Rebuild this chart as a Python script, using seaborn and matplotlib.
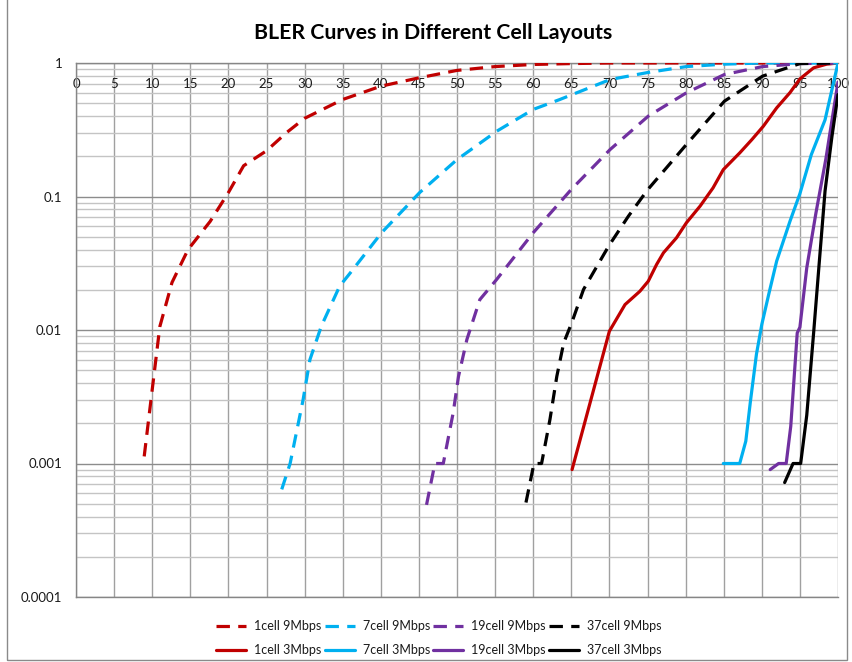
import numpy as np
import pandas as pd
import matplotlib
matplotlib.use("Agg")
import matplotlib.pyplot as plt
from matplotlib.ticker import FixedLocator, NullFormatter
from matplotlib.patches import Rectangle
import seaborn as sns

sns.set_theme(style="white")
plt.rcParams["font.family"] = ["Lato", "DejaVu Sans"]

# ---- data -------------------------------------------------------------
series_names = ["1cell 9Mbps", "1cell 3Mbps", "7cell 9Mbps", "7cell 3Mbps",
                "19cell 9Mbps", "19cell 3Mbps", "37cell 9Mbps", "37cell 3Mbps"]

x_1cell_9 = [8.95, 9.9, 11.0, 12.6, 14.7, 17.6, 20.0, 22.0, 25.0, 27.6, 30.0,
             35.0, 40.0, 45.0, 50.0, 55.0, 60.0, 65.0, 70.0, 80.0, 90.0, 100.0]
y_1cell_9 = [0.00113, 0.0032, 0.0106, 0.0227, 0.040, 0.065, 0.107, 0.17, 0.22,
             0.30, 0.385, 0.533, 0.67, 0.774, 0.88, 0.94, 0.975, 0.99, 1.0,
             1.0, 1.0, 1.0]

x_7cell_9 = [27.0, 28.1, 29.8, 30.7, 32.2, 34.6, 36.0, 40.1, 45.1, 50.0, 55.2,
             60.0, 63.5, 70.1, 75.1, 80.1, 85.0, 90.0, 95.0, 100.0]
y_7cell_9 = [0.00064, 0.001, 0.0030, 0.006, 0.0107, 0.0213, 0.0268, 0.0535,
             0.107, 0.189, 0.308, 0.449, 0.533, 0.752, 0.85, 0.94, 0.98, 1.0,
             1.0, 1.0]

x_19cell_9 = [46.0, 47.1, 48.2, 49.5, 50.2, 51.3, 53.0, 55.2, 60.0, 65.0, 70.1,
              75.1, 80.1, 85.1, 90.1, 95.0, 100.0]
y_19cell_9 = [0.00049, 0.001, 0.001, 0.0024, 0.0045, 0.0085, 0.0169, 0.0239,
              0.0535, 0.113, 0.225, 0.40, 0.598, 0.82, 0.94, 0.99, 1.0]

x_37cell_9 = [59.05, 60.1, 61.1, 62.2, 63.1, 64.0, 65.05, 66.6, 69.9, 72.5,
              75.0, 80.1, 85.1, 90.1, 95.0, 100.0]
y_37cell_9 = [0.00051, 0.001, 0.001, 0.00214, 0.0045, 0.008, 0.0113, 0.0201,
              0.0425, 0.0713, 0.112, 0.245, 0.518, 0.797, 0.99, 1.0]

x_1cell_3 = [65.1, 70.0, 72.05, 74.0, 75.1, 76.2, 77.1, 78.8, 80.1, 81.9, 83.6,
             84.95, 87.1, 88.7, 90.2, 91.95, 93.7, 95.0, 96.8, 98.5, 100.0]
y_1cell_3 = [0.0009, 0.0098, 0.0155, 0.0195, 0.0232, 0.031, 0.0379, 0.049,
             0.0635, 0.0847, 0.116, 0.159, 0.212, 0.267, 0.336, 0.461, 0.60,
             0.76, 0.92, 0.98, 1.0]

x_7cell_3 = [84.95, 87.1, 87.9, 88.5, 89.3, 90.0, 90.9, 91.95, 93.7, 95.0,
             96.5, 98.3, 100.0]
y_7cell_3 = [0.001, 0.001, 0.00147, 0.0029, 0.0066, 0.011, 0.0184, 0.0328,
             0.0653, 0.105, 0.206, 0.375, 1.0]

x_19cell_3 = [91.1, 92.2, 93.2, 93.8, 94.65, 95.0, 95.9, 97.1, 98.4, 100.0]
y_19cell_3 = [0.0009, 0.001, 0.001, 0.0019, 0.0095, 0.0105, 0.0292, 0.075,
              0.19, 0.72]

x_37cell_3 = [93.0, 94.1, 95.1, 95.9, 96.8, 97.5, 98.3, 99.2, 100.0]
y_37cell_3 = [0.00072, 0.001, 0.001, 0.0023, 0.0095, 0.03, 0.11, 0.28, 0.58]

x_ticks = list(range(0, 101, 5))
y_ticks = [0.0001, 0.001, 0.01, 0.1, 1]
y_tick_labels = ["0.0001", "0.001", "0.01", "0.1", "1"]

series_x = [x_1cell_9, x_1cell_3, x_7cell_9, x_7cell_3,
            x_19cell_9, x_19cell_3, x_37cell_9, x_37cell_3]
series_y = [y_1cell_9, y_1cell_3, y_7cell_9, y_7cell_3,
            y_19cell_9, y_19cell_3, y_37cell_9, y_37cell_3]

colors = {"1cell": "#C00000", "7cell": "#00B0F0",
          "19cell": "#7030A0", "37cell": "#000000"}

# ---- figure -----------------------------------------------------------
W, H = 852, 662
fig = plt.figure(figsize=(W / 100, H / 100), dpi=100)
fig.patch.set_facecolor("white")

# outer chart frame
fig.add_artist(Rectangle((7 / W, 2 / H), (847 - 7) / W, 1.2, transform=fig.transFigure,
                         fill=False, edgecolor="#8a8a8a", lw=1.0))

L, R, T, B = 76, 838, 63, 597
ax = fig.add_axes([L / W, 1 - B / H, (R - L) / W, (B - T) / H])
ax.set_facecolor("white")
ax.set_yscale("log")
ax.set_xlim(0, 100)
ax.set_ylim(1e-4, 1)

# grid
minor_locs = [m * 10.0 ** e for e in range(-4, 0) for m in range(2, 10)]
ax.yaxis.set_major_locator(FixedLocator(y_ticks))
ax.yaxis.set_minor_locator(FixedLocator(minor_locs))
ax.yaxis.set_minor_formatter(NullFormatter())
ax.set_yticklabels(y_tick_labels)
ax.xaxis.set_major_locator(FixedLocator(x_ticks))
ax.set_xticklabels([])
ax.grid(which="major", axis="y", color="#8c8c8c", lw=1.0)
ax.grid(which="minor", axis="y", color="#c4c4c4", lw=1.0)
ax.grid(which="major", axis="x", color="#a0a0a0", lw=1.0)
ax.set_axisbelow(True)

for s in ["left", "bottom", "top"]:
    ax.spines[s].set_color("#868686")
    ax.spines[s].set_linewidth(1.0)
ax.spines["right"].set_visible(False)

ax.tick_params(axis="y", which="major", length=4, color="#868686", width=1,
               direction="out", labelsize=9.5, labelcolor="#1a1a1a", pad=6)
ax.tick_params(axis="y", which="minor", length=0)
ax.tick_params(axis="x", which="both", length=0)

# x labels sit just under the top axis line
for v in x_ticks:
    ax.text(v, 0.9607, str(v), transform=ax.get_xaxis_transform(),
            ha="center", va="center", fontsize=9.5, color="#1a1a1a", zorder=1)

# curves
for name, xs, ys in zip(series_names, series_x, series_y):
    cell = name.split()[0]
    dashed = "9Mbps" in name
    df = pd.DataFrame({"x": xs, "y": ys})
    sns.lineplot(data=df, x="x", y="y", ax=ax, color=colors[cell], lw=2.3,
                 estimator=None, sort=False, label=name,
                 linestyle=(0, (4.2, 2.6)) if dashed else "-", zorder=3)

ax.set_xlabel("")
ax.set_ylabel("")

leg = ax.legend(loc="upper center", bbox_to_anchor=(0.476, -0.022),
                ncol=4, frameon=False, fontsize=9, handlelength=2.4,
                columnspacing=0.25, handletextpad=0.64, labelspacing=1.0)
for t in leg.get_texts():
    t.set_color("#1a1a1a")

fig.text(433 / W, 1 - 33 / H, "BLER Curves in Different Cell Layouts",
         ha="center", va="center", fontsize=15.3, fontweight="bold", color="#000000")

fig.savefig("out.png", dpi=100, facecolor="white")
